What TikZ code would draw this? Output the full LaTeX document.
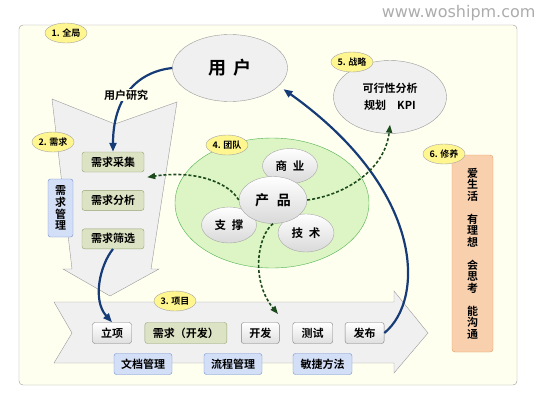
\documentclass[tikz,border=0pt]{standalone}
\usepackage{fontspec}
\setmainfont{Noto Sans CJK SC}[BoldFont={* Bold}]
\newfontfamily\wmfont{DejaVu Sans}
\usepackage{tikz}
\usetikzlibrary{arrows.meta,positioning,shapes.geometric,calc}
\definecolor{panelbg}{HTML}{FFFFF0}
\definecolor{tagyellow}{HTML}{FFF68F}
\definecolor{greenfill}{HTML}{DCE3C4}
\definecolor{greenline}{HTML}{94A274}
\definecolor{bluefill}{HTML}{D3DFF7}
\definecolor{blueline}{HTML}{6E8ED2}
\definecolor{teamfill}{HTML}{DDF5C4}
\definecolor{peachfill}{HTML}{F9D0AE}
\definecolor{peachline}{HTML}{E59A5E}
\definecolor{curveblue}{HTML}{163C78}
\definecolor{dashgreen}{HTML}{1C4A1C}
\definecolor{shapegray}{HTML}{F0F0F0}
\tikzset{
  tag/.style={ellipse, draw=gray!70, fill=tagyellow, inner sep=0pt, minimum width=42pt, minimum height=20pt, font=\bfseries\fontsize{9}{9}\selectfont},
  greenbox/.style={rectangle, rounded corners=2.5pt, draw=greenline, fill=greenfill, inner sep=0pt, minimum height=20pt, font=\bfseries\fontsize{11}{11}\selectfont},
  graybox/.style={rectangle, rounded corners=2.5pt, draw=gray, top color=white, bottom color=gray!25, inner sep=0pt, minimum height=21pt, font=\bfseries\fontsize{11}{11}\selectfont},
  bluebox/.style={rectangle, rounded corners=2.5pt, draw=blueline, fill=bluefill, inner sep=0pt, minimum height=21pt, font=\bfseries\fontsize{11}{11}\selectfont},
  blob/.style={ellipse, draw=gray!70, top color=white, bottom color=gray!30, inner sep=0pt, font=\bfseries\fontsize{11.5}{11.5}\selectfont},
  bigoval/.style={ellipse, draw=gray!80, fill=shapegray, inner sep=0pt},
  bluearrow/.style={-{Triangle[length=9pt,width=7pt]}, line width=2.2pt, draw=curveblue},
  dasharrow/.style={-{Triangle[length=8pt,width=6pt]}, line width=1.6pt, dash pattern=on 3pt off 2pt, draw=dashgreen}
}

\begin{document}
\begin{tikzpicture}[x=1pt,y=-1pt]
\useasboundingbox (0,0) rectangle (546,402);
% frame
\draw[gray!80, fill=panelbg, rounded corners=4pt] (19,25) rectangle (517,385);
\node[anchor=east, text=gray!65, font=\wmfont\fontsize{16}{16}\selectfont] (site) at (539,13) {www.woshipm.com};
% funnel and project arrow
\draw[gray!80, fill=shapegray] (52,99) -- (115,124) -- (177,102) -- (151,269) -- (159,269) -- (110,296) -- (63,269) -- (72,269) -- cycle;
\draw[gray!80, fill=shapegray] (54,302) -- (394,302) -- (394,291) -- (428,333) -- (394,373) -- (394,363) -- (54,363) -- (72,333) -- cycle;
% team
\node[ellipse, draw=gray!60!green, fill=teamfill, minimum width=194pt, minimum height=130pt] (team) at (272,203) {};
\node[blob, minimum width=55pt, minimum height=35pt] (biz) at (290,166) {商\hspace{6pt}业};
\node[blob, minimum width=56pt, minimum height=38pt] (tech) at (306,233) {技\hspace{6pt}术};
\node[blob, minimum width=55pt, minimum height=36pt] (supp) at (229,225) {支\hspace{6pt}撑};
\node[blob, minimum width=68pt, minimum height=47pt, font=\bfseries\fontsize{14}{14}\selectfont] (prod) at (273,200) {产\hspace{8pt}品};
% user and strategy
\node[bigoval, minimum width=115pt, minimum height=67pt, font=\bfseries\fontsize{18}{18}\selectfont] (user) at (230,68) {用\hspace{8pt}户};
\node[bigoval, minimum width=113pt, minimum height=73pt, align=center, font=\bfseries\fontsize{11}{17}\selectfont] (strat) at (390,97) {可行性分析\\规划\quad KPI};
% requirements
\node[greenbox, minimum width=62pt] (reqa) at (113,162) {需求采集};
\node[greenbox, minimum width=62pt, below=18pt of reqa] (reqb) {需求分析};
\node[greenbox, minimum width=62pt, below=18pt of reqb] (reqc) {需求筛选};
\node[bluebox, minimum width=25pt, minimum height=58pt, align=center, font=\bfseries\fontsize{11}{11.7}\selectfont] (reqmgmt) at (60.5,208) {需\\求\\管\\理};
% project steps
\node[graybox, minimum width=39pt] (init) at (112,333) {立项};
\node[greenbox, minimum width=82pt, minimum height=21pt, right=13pt of init] (reqdev) {需求（开发）};
\node[graybox, minimum width=38pt, right=14pt of reqdev] (dev) {开发};
\node[graybox, minimum width=40pt, right=13pt of dev] (test) {测试};
\node[graybox, minimum width=39pt, right=12pt of test] (release) {发布};
\node[bluebox, minimum width=58pt] (docs) at (143,364) {文档管理};
\node[bluebox, minimum width=58pt] (flow) at (233,364) {流程管理};
\node[bluebox, minimum width=59pt] (agile) at (322.5,364) {敏捷方法};
% cultivation
\node[rectangle, rounded corners=3pt, draw=peachline, fill=peachfill, minimum width=41pt, minimum height=197pt, align=center, font=\bfseries\fontsize{11}{11.5}\selectfont] (self) at (472.5,253.5) {爱\\生\\活\\[11.5pt]有\\理\\想\\[11.5pt]会\\思\\考\\[11.5pt]能\\沟\\通};
% connectors
\draw[bluearrow] (user.west) .. controls (135,72) and (113,100) .. (reqa.north);
\node[fill=panelbg, inner sep=1pt, font=\bfseries\fontsize{11}{11}\selectfont] (research) at (126,95) {用户研究};
\draw[bluearrow] (reqc.south) .. controls (100,265) and (92,300) .. (init.north);
\draw[bluearrow] (release.east) .. controls (425,300) and (425,190) .. ([xshift=6pt,yshift=-2pt]user.-22);
\draw[dasharrow] (prod.west) .. controls (228,182) and (195,170) .. ([xshift=3pt,yshift=-5pt]reqa.south east);
\draw[dasharrow] (prod.east) .. controls (345,195) and (385,170) .. ([yshift=9pt]strat.south);
\coordinate (projtop) at (278,314);
\draw[dasharrow] (prod.south) .. controls (258,235) and (250,280) .. (projtop);
% tags
\node[tag] (tagall) at (66,33) {1. 全局};
\node[tag] (tagreq) at (53,142) {2. 需求};
\node[tag] (tagproj) at (175,301) {3. 项目};
\node[tag] (tagteam) at (227,145) {4. 团队};
\node[tag] (tagstrat) at (352,62) {5. 战略};
\node[tag] (tagself) at (444,154) {6. 修养};
\end{tikzpicture}
\end{document}
